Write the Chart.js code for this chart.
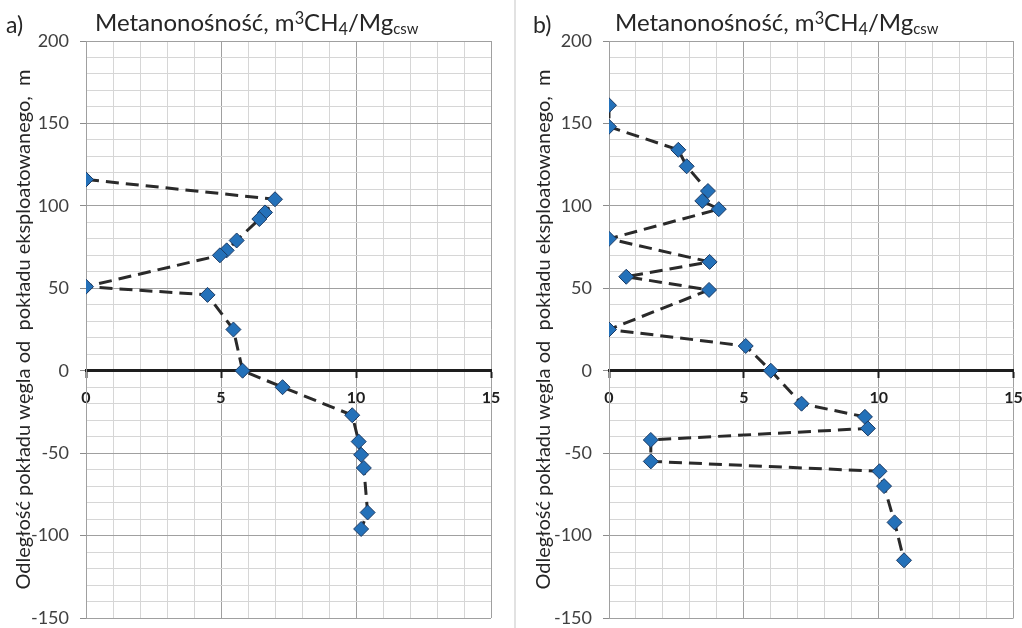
<!DOCTYPE html>
<html>
<head>
<meta charset="utf-8">
<script src="https://cdn.jsdelivr.net/npm/chart.js@4.4.1/dist/chart.umd.min.js"></script>
<style>
  html, body { margin: 0; padding: 0; background: #fff; }
  #wrap { position: relative; width: 1022px; height: 628px; overflow: hidden; background: #fff; font-family: Lato, sans-serif; }
  canvas { position: absolute; top: 0; }
  .ttl { position: absolute; font-size: 24px; line-height: 24px; color: #262626; white-space: nowrap; }
  .ttl .sup { position: relative; top: -0.42em; font-size: 0.68em; }
  .ttl .sub { position: relative; top: 0.25em; font-size: 0.68em; }
  .ttl .sub2 { position: relative; top: 0.22em; font-size: 0.62em; }
  .lbl { position: absolute; font-size: 23px; line-height: 23px; color: #262626; }
  #sep { position: absolute; left: 514px; top: 0; width: 2px; height: 628px; background: #e2e2e2; }
</style>
</head>
<body>
<div id="wrap">
  <canvas id="chartA" width="512" height="628" style="left:0"></canvas>
  <div id="sep"></div>
  <canvas id="chartB" width="502" height="628" style="left:520px"></canvas>
  <div class="lbl" style="left:6px;top:13px">a)</div>
  <div class="ttl" style="left:95px;top:10px">Metanonośność, m<span class="sup">3</span>CH<span class="sub">4</span>/Mg<span class="sub2">csw</span></div>
  <div class="lbl" style="left:533px;top:13px">b)</div>
  <div class="ttl" style="left:615px;top:10px">Metanonośność, m<span class="sup">3</span>CH<span class="sub">4</span>/Mg<span class="sub2">csw</span></div>
</div>
<script>
// ---- data (panel a) ----
const methaneA = [0, 7.0, 6.63, 6.42, 5.58, 5.21, 4.96, 0, 4.5, 5.46, 5.8, 7.28, 9.86, 10.1, 10.19, 10.29, 10.43, 10.19];
const depthA   = [116, 104, 96, 92, 79, 73, 70, 51, 46, 25, 0, -10, -27, -43, -51, -59, -86, -96];
// ---- data (panel b) ----
const methaneB = [0, 0, 2.57, 2.88, 3.67, 3.46, 4.07, 0, 3.73, 0.64, 3.71, 0, 5.07, 6.0, 7.14, 9.49, 9.6, 1.55, 1.55, 10.03, 10.2, 10.59, 10.94];
const depthB   = [161, 148, 134, 124, 109, 103, 98, 80, 66, 57, 49, 25, 15, 0, -20, -28, -35, -42, -55, -61, -70, -92, -115];
// ---- axes ----
const xTickLabels = [0, 5, 10, 15];
const yTickLabels = [-150, -100, -50, 0, 50, 100, 150, 200];
const yTitle = 'Odległość pokładu węgla od  pokładu eksploatowanego,  m';

function zeroPad(s) { s.paddingLeft = 0; s.paddingRight = 0; s.paddingTop = 0; s.paddingBottom = 0; }

function makeChart(id, xs, ys, yWidth, padRight) {
  const pts = xs.map((x, i) => ({x: x, y: ys[i]}));
  return new Chart(document.getElementById(id), {
    type: 'scatter',
    data: { datasets: [{
      data: pts,
      showLine: true,
      borderColor: '#2a2a2a',
      borderWidth: 3,
      borderDash: [13, 7],
      tension: 0,
      pointStyle: 'rectRot',
      pointRadius: 7.5,
      pointHoverRadius: 7.5,
      pointBackgroundColor: '#2471b9',
      pointBorderColor: '#1c3a63',
      pointBorderWidth: 1
    }]},
    options: {
      responsive: false,
      devicePixelRatio: 1,
      animation: false,
      layout: { padding: { left: 0, right: padRight, top: 41, bottom: 10 } },
      plugins: { legend: { display: false }, tooltip: { enabled: false }, title: { display: false } },
      scales: {
        x: {
          type: 'linear',
          position: { y: 0 },
          min: 0, max: 15,
          afterFit: s => { s.height = 0; zeroPad(s); },
          ticks: {
            stepSize: 1, autoSkip: false, maxRotation: 0, padding: 12,
            color: '#1e1e1e',
            font: { family: 'Lato', size: 16, weight: 'bold' },
            callback: v => xTickLabels.includes(v) ? String(v) : ''
          },
          grid: {
            color: c => (c.tick && c.tick.value % 5 === 0) ? '#a0a0a0' : '#d6d6d6',
            lineWidth: 1,
            drawTicks: true,
            tickLength: 6,
            tickColor: c => (c.tick && c.tick.value % 5 === 0) ? '#1e1e1e' : 'rgba(0,0,0,0)',
            tickWidth: 2
          },
          border: { display: true, color: '#1e1e1e', width: 3 }
        },
        y: {
          type: 'linear',
          position: 'left',
          min: -150, max: 200,
          afterFit: s => { s.width = yWidth; zeroPad(s); },
          ticks: {
            stepSize: 10, autoSkip: false, padding: 11,
            color: '#404040',
            font: { family: 'Lato', size: 18 },
            callback: v => yTickLabels.includes(v) ? String(v) : ''
          },
          grid: {
            color: c => {
              if (!c.tick) return '#d6d6d6';
              if (c.tick.value === 0) return 'rgba(0,0,0,0)';
              return c.tick.value % 50 === 0 ? '#a0a0a0' : '#d6d6d6';
            },
            lineWidth: 1,
            drawTicks: true,
            tickLength: 6,
            tickColor: c => (c.tick && c.tick.value % 50 === 0) ? '#8c8c8c' : 'rgba(0,0,0,0)'
          },
          border: { display: true, color: '#a0a0a0', width: 1 },
          title: {
            display: true,
            text: yTitle,
            color: '#262626',
            font: { family: 'Lato', size: 20 },
            padding: { top: 12, bottom: 0 }
          }
        }
      }
    }
  });
}

makeChart('chartA', methaneA, depthA, 86, 21);
makeChart('chartB', methaneB, depthB, 89, 8);
</script>
</body>
</html>
